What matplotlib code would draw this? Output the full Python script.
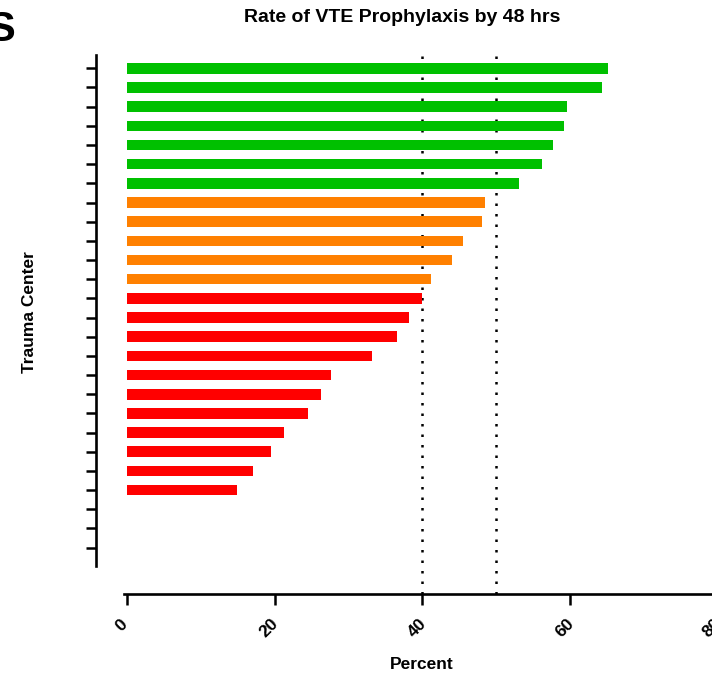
import matplotlib
matplotlib.use('Agg')
import matplotlib.pyplot as plt
import matplotlib.transforms as mtransforms
import numpy as np

# valores (porcentaje por centro)
green_vals = [65.2, 64.4, 59.7, 59.3, 57.8, 56.3, 53.2]
orange_vals = [48.5, 48.1, 45.6, 44.1, 41.2]
red_vals = [40.0, 38.2, 36.6, 33.2, 27.7, 26.3, 24.5, 21.3, 19.5, 17.1, 14.9]
n_ticks = 26
x_ticks = [0, 20, 40, 60, 80]
ref_lines = [40, 50]

plt.rcParams['font.family'] = ['Liberation Sans', 'DejaVu Sans']

fig = plt.figure(figsize=(7.12, 6.81), dpi=100)
ax = fig.add_axes([127/712, 87/681, 590/712, 539/681])

valores = green_vals + orange_vals + red_vals
colores = ['#00C000'] * len(green_vals) + ['#FF8000'] * len(orange_vals) + ['#FF0000'] * len(red_vals)
pos = np.arange(len(valores))
ax.barh(pos, valores, height=0.55, color=colores, zorder=2)

for v in ref_lines:
    ax.axvline(v, color='black', linestyle=(0, (1, 3.2)), linewidth=1.8, zorder=1)

ax.set_xlim(0, 80)
ax.set_ylim(27.42, -0.695)

ax.spines['top'].set_visible(False)
ax.spines['right'].set_visible(False)
ax.spines['left'].set_position(('outward', 22.3))
ax.spines['left'].set_bounds(-0.69, 25.95)
ax.spines['left'].set_linewidth(1.9)
ax.spines['bottom'].set_linewidth(1.9)
ax.spines['bottom'].set_bounds(-0.4, 80)

ax.set_yticks(np.arange(n_ticks))
ax.set_yticklabels([])
ax.tick_params(axis='y', length=7.5, width=1.8, direction='out')

ax.set_xticks(x_ticks)
ax.set_xticklabels([str(t) for t in x_ticks], rotation=45, ha='center', va='top',
                   fontsize=12.5, fontweight='bold')
ax.tick_params(axis='x', length=8, width=1.8, direction='out', pad=8)
desplazo = mtransforms.ScaledTranslation(-5/100, 0, fig.dpi_scale_trans)
for lbl in ax.get_xticklabels():
    lbl.set_transform(lbl.get_transform() + desplazo)

ax.set_xlabel('Percent', fontsize=12.5, fontweight='bold', labelpad=12)

fig.text(402/712, 1 - 18/681, 'Rate of VTE Prophylaxis by 48 hrs', ha='center', va='center',
         fontsize=14, fontweight='bold')
fig.text(30/712, 1 - 312/681, 'Trauma Center', ha='center', va='center', rotation=90,
         fontsize=12.5, fontweight='bold')
fig.text(-12/712, 1 - 30/681, 'S', ha='left', va='center', fontsize=30, fontweight='bold')

fig.savefig('out.png', dpi=100)
